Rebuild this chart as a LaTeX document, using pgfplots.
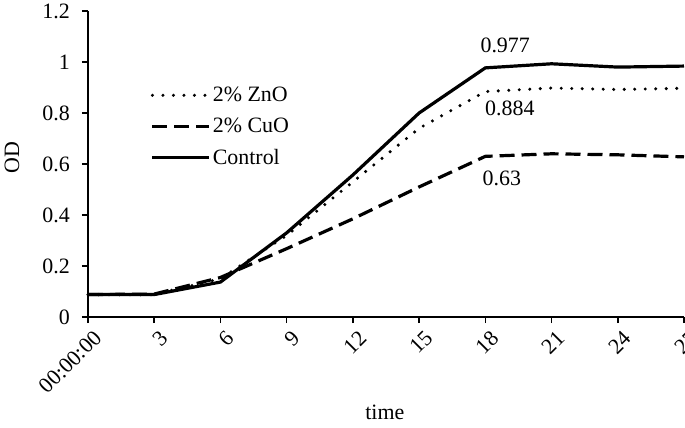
\documentclass[border=0pt]{standalone}
\usepackage{fontspec}
\setmainfont{Liberation Serif}
\usepackage{pgfplots}
\pgfplotsset{compat=1.18}
\begin{document}
\begin{tikzpicture}
\begin{axis}[
  scale only axis,
  width=596bp, height=306bp,
  font=\fontsize{22}{26}\selectfont,
  /pgf/number format/assume math mode=true,
  axis lines=left,
  axis line style={-, line width=1.6bp},
  xmin=0, xmax=9, ymin=0, ymax=1.2,
  xtick={0,1,...,9},
  xticklabels={00:00:00,3,6,9,12,15,18,21,24,27},
  ytick={0,0.2,0.4,0.6,0.8,1,1.2},
  tick style={black, line width=1.6bp},
  tick align=outside,
  major tick length=6bp,
  xticklabel style={rotate=45, anchor=east, inner sep=0bp, yshift=-15bp, xshift=-1bp},
  yticklabel style={inner sep=0bp, xshift=-12bp},
  xlabel={time}, ylabel={OD},
  xlabel style={at={(axis description cs:0.498,-0.31)}, anchor=center},
  ylabel style={at={(axis description cs:-0.1275,0.52)}, anchor=center},
  legend style={at={(0.105,0.758)}, anchor=north west, draw=none, fill=none,
    row sep=11bp, inner sep=0bp, font=\fontsize{22}{26}\selectfont,
    /tikz/every even column/.append style={column sep=4bp}},
  legend cell align=left,
  legend image code/.code={\draw[#1] (0cm,0cm) -- (2.0cm,0cm);},
  clip=false,
]
\addplot[black, line width=3.4bp, line cap=round, dash pattern=on 0bp off 10.5bp] coordinates {
 (0,0.088) (1,0.088) (2,0.150) (3,0.320) (4,0.530) (5,0.740) (6,0.884) (7,0.898) (8,0.892) (9,0.897)};
\addlegendentry{2\% ZnO}
\addplot[black, line width=3.2bp, dash pattern=on 15bp off 7bp] coordinates {
 (0,0.088) (1,0.090) (2,0.155) (3,0.268) (4,0.385) (5,0.510) (6,0.630) (7,0.640) (8,0.636) (9,0.628)};
\addlegendentry{2\% CuO}
\addplot[black, line width=3.2bp] coordinates {
 (0,0.088) (1,0.088) (2,0.137) (3,0.330) (4,0.557) (5,0.800) (6,0.977) (7,0.993) (8,0.980) (9,0.984)};
\addlegendentry{Control}
\node at (axis cs:6.3,1.067) {0.977};
\node at (axis cs:6.37,0.82) {0.884};
\node at (axis cs:6.25,0.545) {0.63};
\end{axis}
\pgfresetboundingbox
\path[use as bounding box] ([xshift=-88bp,yshift=-111bp]current axis.south west) rectangle ([xshift=1bp,yshift=11bp]current axis.north east);
\end{tikzpicture}
\end{document}
